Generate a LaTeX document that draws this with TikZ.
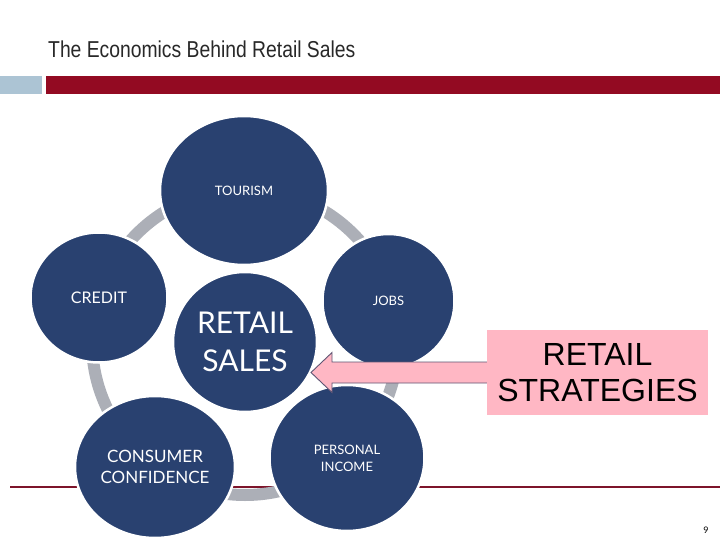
\documentclass[tikz,border=0pt]{standalone}
\usepackage{fontspec}
\setmainfont{Lato}
\newfontfamily\titlefont[FakeStretch=0.84]{Liberation Sans}
\newfontfamily\boxfont{Liberation Sans}
\usetikzlibrary{shapes.geometric,calc}
\definecolor{bubblefill}{RGB}{41,65,112}
\definecolor{ringgray}{RGB}{172,175,183}
\definecolor{barred}{RGB}{147,10,34}
\definecolor{barblue}{RGB}{172,196,212}
\definecolor{linered}{RGB}{125,20,42}
\definecolor{boxpink}{RGB}{255,183,196}
\definecolor{arrowedge}{RGB}{95,85,115}
\definecolor{titlegray}{RGB}{40,40,40}
\tikzstyle{bubble}=[ellipse,fill=bubblefill,draw=white,line width=2.5pt,inner sep=0pt,text=white,align=center]
\tikzstyle{ring} = [draw=ringgray,line width=12pt]
\tikzstyle{stratbox}=[fill=boxpink,inner sep=0pt,align=center,font=\boxfont\fontsize{32}{36}\selectfont]
\tikzstyle{blockarrow} = [fill=boxpink,draw=arrowedge,line width=0.9pt,line join=miter]

\begin{document}
\begin{tikzpicture}[x=1pt,y=-1pt]
        \fill[white] (0,0) rectangle (720,540);
        \useasboundingbox (0,0) rectangle (720,540);

        \node[anchor=base west,inner sep=0pt,text=titlegray,font=\titlefont\fontsize{23}{25}\selectfont] (title) at (48,58) {The Economics Behind Retail Sales};
        \fill[barblue] (0,76) rectangle (42,94);
        \fill[barred] (46,76) rectangle (720,94);
        \draw[linered,line width=2pt] (10,487) -- (720,487);

        \node[bubble,minimum width=144,minimum height=140,font=\fontsize{30}{38}\selectfont] (sales) at (245,342) {RETAIL\\SALES};
        \draw[ring] (sales.center) circle (153);

        \node[bubble,minimum width=168,minimum height=149,font=\fontsize{13}{15}\selectfont] (tourism) at (244,190.5) {TOURISM};
        \node[bubble,minimum width=132,minimum height=134,font=\fontsize{13}{15}\selectfont] (jobs) at (388.5,301) {JOBS};
        \node[bubble,minimum width=155,minimum height=146,font=\fontsize{13}{17}\selectfont] (income) at (347,458) {PERSONAL\\INCOME};
        \node[bubble,minimum width=160,minimum height=142,font=\fontsize{17}{21}\selectfont] (consumer) at (155,467) {CONSUMER\\CONFIDENCE};
        \node[bubble,minimum width=137,minimum height=130,font=\fontsize{16}{18}\selectfont] (credit) at (99,297.5) {CREDIT};

        \node[stratbox,minimum width=221,minimum height=85] (box) at (597.5,372.5) {RETAIL\\STRATEGIES};
        \coordinate (tip) at (311,372.5);
        \draw[blockarrow] ($(box.west)+(0,-10.5)$) -- ($(tip)+(21,-10.5)$) -- ($(tip)+(21,-20)$) -- (tip)
                -- ($(tip)+(21,20)$) -- ($(tip)+(21,10.5)$) -- ($(box.west)+(0,10.5)$);
        \node[stratbox,minimum width=221,minimum height=85] at (box.center) {RETAIL\\STRATEGIES};

        \node[anchor=base,font=\fontsize{9}{10}\selectfont] (page) at (706,533) {9};
      \end{tikzpicture}
\end{document}
